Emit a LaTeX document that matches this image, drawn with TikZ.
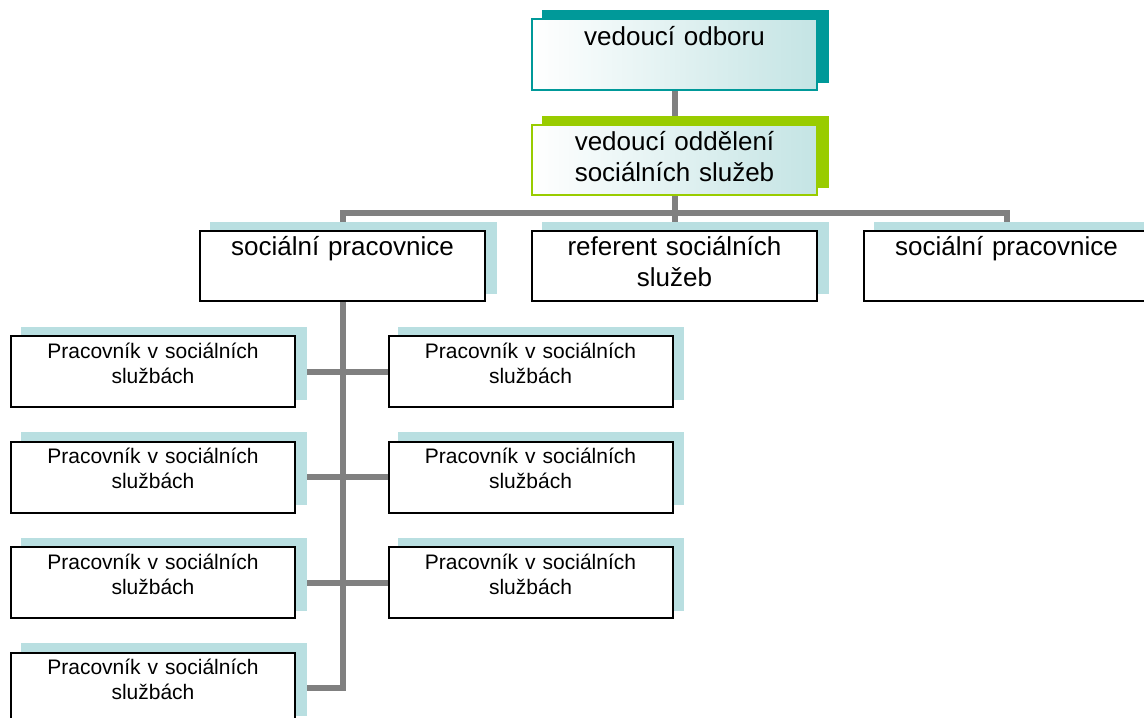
\documentclass[tikz,border=0pt]{standalone}
\usepackage{fontspec}
\setsansfont{Liberation Sans}
\usetikzlibrary{positioning,calc}
\definecolor{tealdark}{HTML}{009999}
\definecolor{tealpale}{HTML}{C4E4E4}
\definecolor{limegreen}{HTML}{99CC00}
\definecolor{shadowblue}{HTML}{B9DFE1}
\definecolor{linkgray}{HTML}{808080}
\tikzset{every picture/.style={/utils/exec={\sffamily}}}
\pgfdeclarelayer{bg}
\pgfdeclarelayer{shade}
\pgfsetlayers{bg,shade,main}
\newcommand{\boxshadow}[2]{%
  \begin{pgfonlayer}{shade}
    \fill[#2] ($(#1.south west)+(10.5,-8.5)$) rectangle ($(#1.north east)+(10.5,-8.5)$);
  \end{pgfonlayer}}

\begin{document}
\begin{tikzpicture}[x=1pt, y=-1pt,
   worker/.style={draw=black, line width=2pt, fill=white, inner sep=0pt, align=center,
     text width=284pt, text height=22pt, text depth=49pt, font=\fontsize{21}{25}\selectfont},
   staff/.style={worker, text width=285pt, text height=24pt, text depth=46pt,
     font=\fontsize{26}{31}\selectfont},
   chief/.style={staff, left color=white, right color=tealpale, text height=26pt, text depth=45pt},
   link/.style={draw=linkgray, line width=6pt}]

    \useasboundingbox (0,0) rectangle (1144,718);

    % top of the chart
    \node [chief, draw=tealdark] (boss) at (674.5,54.5) {vedoucí odboru};
    \node [chief, draw=limegreen, text height=25pt] (head) at (674.5,160) {vedoucí oddělení\\sociálních služeb};

    % second level
    \node [staff] (sp1) at (342.5,266) {sociální pracovnice};
    \node [staff] (ref) at (674.5,266) {referent sociálních\\služeb};
    \node [staff] (sp2) at (1006.5,266) {sociální pracovnice};

    % third level
    \foreach \i/\y in {1/371.5,2/477,3/582.5,4/688}
      \node [worker] (wl\i) at (153,\y) {Pracovník v sociálních\\službách};
    \foreach \i/\y in {1/371.5,2/477,3/582.5}
      \node [worker] (wr\i) at (530.5,\y) {Pracovník v sociálních\\službách};

    \boxshadow{boss}{tealdark}
    \boxshadow{head}{limegreen}
    \foreach \n in {sp1,ref,sp2,wl1,wl2,wl3,wl4,wr1,wr2,wr3}
      {\boxshadow{\n}{shadowblue}}

    \begin{pgfonlayer}{bg}
    \draw [link] (boss) -- (head);
    \draw [link] (head) -- (ref);
    \draw [link] (sp1.north) |- ($(head.south)!.5!(ref.north)$) -| (sp2.north);
    \draw [link] (sp1.south) |- (wl4.east);
    \foreach \i in {1,2,3}
      \draw [link] (wl\i.east) -- (wr\i.west);
    \end{pgfonlayer}
\end{tikzpicture}
\end{document}
